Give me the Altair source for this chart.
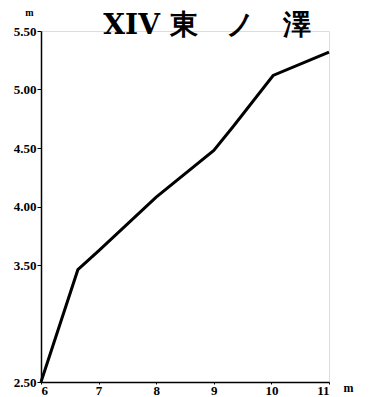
import altair as alt
import pandas as pd

# data
x_vals = [6, 6.64, 7, 8, 9, 9.33, 10.03, 11]
y_vals = [2.50, 3.46, 3.62, 4.08, 4.48, 4.68, 5.12, 5.32]
y_ticks = [2.5, 3.5, 4.0, 4.5, 5.0, 5.5]
x_ticks = [6, 7, 8, 9, 10, 11]
title_text = "XIV 東\u3000ノ\u3000澤"

df = pd.DataFrame({"x": x_vals, "y": y_vals})

FONT = "Liberation Serif"

chart = alt.Chart(df).mark_line(color="black", strokeWidth=3, strokeJoin="miter").encode(
    x=alt.X("x:Q",
            scale=alt.Scale(domain=[6, 11], nice=False, zero=False),
            axis=alt.Axis(values=x_ticks, format="d", title="m", titleAngle=0,
                          titleX=302, titleY=5, titleAlign="left", titleBaseline="middle",
                          titleFont=FONT, titleFontSize=12, titleFontWeight="bold",
                          labelFont=FONT, labelFontSize=13, labelFontWeight="bold",
                          labelPadding=0, tickSize=2, grid=False,
                          domainColor="black", domainWidth=1.5, tickColor="black",
                          labelColor="black", titleColor="black")),
    y=alt.Y("y:Q",
            scale=alt.Scale(domain=[2.5, 5.5], nice=False, zero=False),
            axis=alt.Axis(values=y_ticks, format=".2f", title="m", titleAngle=0,
                          titleX=-12, titleY=-19, titleAlign="center", titleBaseline="middle",
                          titleFont=FONT, titleFontSize=10, titleFontWeight="bold",
                          labelFont=FONT, labelFontSize=13, labelFontWeight="bold",
                          labelPadding=1, tickSize=4, grid=False,
                          domainColor="black", domainWidth=1.5, tickColor="black",
                          labelColor="black", titleColor="black")),
).properties(
    width=288,
    height=351,
    title=alt.Title(title_text, font="DejaVu Serif", fontSize=28, fontWeight="bold",
                    anchor="middle", dx=22, offset=-33, color="black"),
    autosize=alt.AutoSizeParams(type="none"),
    padding={"left": 33, "top": 23, "right": 32, "bottom": 15},
).configure_view(stroke=None).configure(background="white")

chart.save("out.html", embed_options={"renderer": "svg", "actions": False})
